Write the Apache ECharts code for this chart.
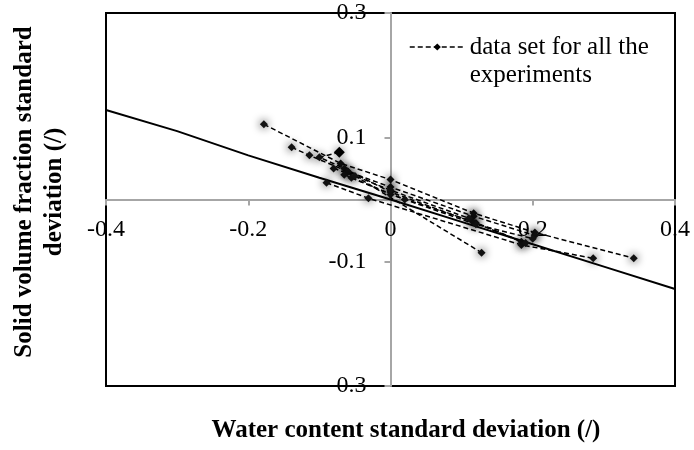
<!DOCTYPE html>
<html>
<head>
<meta charset="utf-8">
<script src="https://cdn.jsdelivr.net/npm/echarts@6/dist/echarts.min.js"></script>
<style>
html,body{margin:0;padding:0;background:#fff;}
#chart{width:694px;height:450px;}
</style>
</head>
<body>
<div id="chart"></div>
<script>
// ---- data ----
const xTicks = [-0.4, -0.2, 0, 0.2, 0.4];
const yTicks = [-0.3, -0.1, 0.1, 0.3];
const legendName = 'data set for all the experiments';

// solid reference curve
const modelX = [-0.4, -0.3, -0.2, -0.1, 0, 0.1, 0.2, 0.3, 0.4];
const modelY = [0.144, 0.110, 0.071, 0.035, 0.0, -0.036, -0.072, -0.108, -0.144];

// dashed experiment series [x, y]
const exp1 = [[-0.178, 0.121], [-0.07, 0.058], [0.0, 0.032], [0.117, -0.022], [0.203, -0.053], [0.342, -0.0945]];
const exp2 = [[-0.139, 0.084], [-0.114, 0.071], [-0.06, 0.045], [0.0, 0.02], [0.117, -0.027], [0.203, -0.058]];
const exp3 = [[-0.072, 0.076], [-0.1, 0.068], [-0.065, 0.05], [0.0, 0.012], [0.12, -0.038], [0.184, -0.068]];
const exp4 = [[-0.09, 0.027], [-0.031, 0.002], [0.184, -0.073], [0.285, -0.0945]];
const exp5 = [[-0.06, 0.045], [0.128, -0.0855]];
const exp6 = [[-0.065, 0.04], [0.0, 0.008], [0.115, -0.035], [0.19, -0.07]];
const exp7 = [[-0.055, 0.035], [0.02, 0.0], [0.12, -0.04], [0.2, -0.063]];
const exp8 = [[-0.08, 0.05], [-0.05, 0.038], [0.0, 0.015], [0.11, -0.03]];
const diamondPoint = [[-0.072, 0.076]];

const experiments = [exp1, exp2, exp3, exp4, exp5, exp6, exp7, exp8];

// ---- chart ----
const W = 694, H = 450;
const gridL = 106, gridR = 19, gridT = 13, gridB = 64;
const plotW = W - gridL - gridR, plotH = H - gridT - gridB;
const xMin = xTicks[0], xMax = xTicks[xTicks.length - 1];
const yMin = yTicks[0], yMax = yTicks[yTicks.length - 1];
// move the axes onto the other axis' zero
const xAxisOffset = -plotH * (0 - yMin) / (yMax - yMin);
const yAxisOffset = -plotW * (0 - xMin) / (xMax - xMin);

const chart = echarts.init(document.getElementById('chart'), null, {renderer: 'canvas'});
const serif = '"Liberation Serif", "Times New Roman", serif';
const axisGray = '#a6a6a6';

const series = [];
series.push({
  name: 'model',
  type: 'line',
  data: modelX.map((x, i) => [x, modelY[i]]),
  showSymbol: false,
  symbol: 'none',
  lineStyle: {color: '#000', width: 2},
  z: 2
});
experiments.forEach(d => {
  series.push({
    name: legendName,
    type: 'line',
    data: d,
    symbol: 'diamond',
    symbolSize: 8,
    showSymbol: true,
    lineStyle: {color: '#000', width: 1.5, type: [5, 3]},
    itemStyle: {color: '#111', shadowBlur: 8, shadowColor: 'rgba(0,0,0,0.95)'},
    z: 3
  });
});
series.push({
  name: legendName,
  type: 'line',
  data: diamondPoint,
  symbol: 'diamond',
  symbolSize: 11,
  lineStyle: {width: 0},
  itemStyle: {color: '#000'},
  z: 4
});

const option = {
  animation: false,
  backgroundColor: '#fff',
  grid: {left: gridL, right: gridR, top: gridT, bottom: gridB, show: true, borderColor: '#000', borderWidth: 2, backgroundColor: 'transparent'},
  legend: {
    data: [legendName],
    left: 409,
    top: 5,
    padding: 0,
    itemWidth: 55,
    itemHeight: 9,
    formatter: () => '\ndata set for all the\nexperiments',
    textStyle: {fontFamily: serif, fontSize: 25, color: '#000', lineHeight: 28},
    itemStyle: {shadowBlur: 0, color: '#000'},
    lineStyle: {width: 1.5, color: '#000'}
  },
  xAxis: {
    type: 'value',
    min: xMin,
    max: xMax,
    interval: 0.2,
    position: 'bottom',
    offset: xAxisOffset,
    axisLine: {onZero: false, lineStyle: {color: axisGray, width: 2}},
    axisTick: {show: true, length: 6, lineStyle: {color: axisGray, width: 2}},
    axisLabel: {fontFamily: serif, fontSize: 24, color: '#000', margin: 18, showMinLabel: true, showMaxLabel: true},
    splitLine: {show: false}
  },
  yAxis: {
    type: 'value',
    min: yMin,
    max: yMax,
    interval: 0.2,
    position: 'left',
    offset: yAxisOffset,
    axisLine: {onZero: false, lineStyle: {color: axisGray, width: 2}},
    axisTick: {show: true, length: 6, lineStyle: {color: axisGray, width: 2}},
    axisLabel: {fontFamily: serif, fontSize: 24, color: '#000', margin: 24, showMinLabel: true, showMaxLabel: true},
    splitLine: {show: false}
  },
  graphic: [
    {
      type: 'text',
      x: 406, y: 431,
      style: {text: 'Water content standard deviation (/)', font: 'bold 25px ' + serif, fill: '#000', textAlign: 'center', textVerticalAlign: 'middle'}
    },
    {
      type: 'text',
      x: 40, y: 192,
      rotation: Math.PI / 2,
      style: {text: 'Solid volume fraction standard\ndeviation (/)', font: 'bold 25px ' + serif, fill: '#000', textAlign: 'center', textVerticalAlign: 'middle', lineHeight: 30}
    }
  ],
  series: series
};
chart.setOption(option);
</script>
</body>
</html>
